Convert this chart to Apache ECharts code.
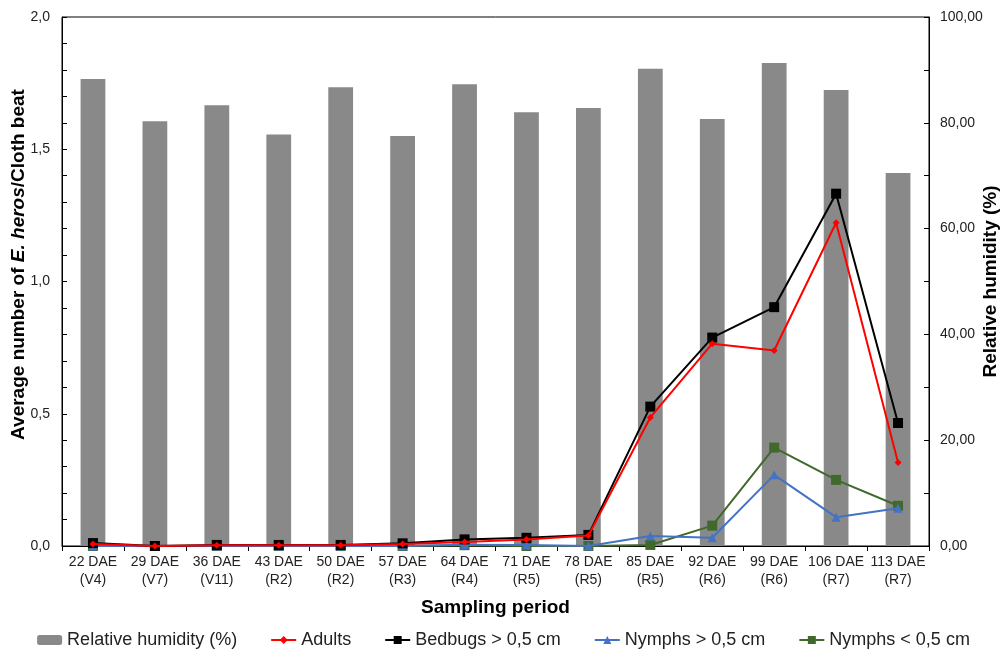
<!DOCTYPE html>
<html><head><meta charset="utf-8">
<script src="https://cdn.jsdelivr.net/npm/echarts@6/dist/echarts.min.js"></script>
<style>html,body{margin:0;padding:0;background:#fff}#c{width:1007px;height:655px}</style>
</head><body><div id="c"></div>
<script>
const categories = ['22 DAE\n(V4)','29 DAE\n(V7)','36 DAE\n(V11)','43 DAE\n(R2)','50 DAE\n(R2)','57 DAE\n(R3)','64 DAE\n(R4)','71 DAE\n(R5)','78 DAE\n(R5)','85 DAE\n(R5)','92 DAE\n(R6)','99 DAE\n(R6)','106 DAE\n(R7)','113 DAE\n(R7)'];
const humidity = [88.3, 80.3, 83.3, 77.8, 86.7, 77.5, 87.3, 82.0, 82.8, 90.2, 80.7, 91.3, 86.2, 70.5];
const adults   = [0.008, 0, 0.003, 0.003, 0.003, 0.008, 0.015, 0.025, 0.04, 0.486, 0.765, 0.739, 1.222, 0.316];
const bedbugs  = [0.011, 0, 0.004, 0.004, 0.004, 0.010, 0.025, 0.031, 0.042, 0.527, 0.788, 0.903, 1.332, 0.465];
const nymphsBig   = [0, 0, 0, 0, 0, 0, 0.005, 0.004, 0, 0.038, 0.031, 0.269, 0.109, 0.143];
const nymphsSmall = [0, 0, 0, 0, 0, 0, 0.003, 0, 0, 0.004, 0.077, 0.372, 0.250, 0.152];

const txt = '#222';
const font = 'Liberation Sans, Arial, sans-serif';
const chart = echarts.init(document.getElementById('c'));
chart.setOption({
  animation: false,
  textStyle: {fontFamily: font},
  grid: {left: 62, right: 78, top: 17, bottom: 109, outerBoundsMode: 'none', containLabel: false,
         show: true, borderColor: '#000', borderWidth: 1, backgroundColor: 'transparent'},
  legend: {
    bottom: 1, left: 'center', itemGap: 33, itemWidth: 25, itemHeight: 10,
    textStyle: {fontSize: 18, color: txt, fontFamily: font},
    data: ['Relative humidity (%)','Adults','Bedbugs > 0,5 cm','Nymphs > 0,5 cm','Nymphs < 0,5 cm']
  },
  xAxis: {
    type: 'category', data: categories,
    name: 'Sampling period', nameLocation: 'middle', nameGap: 52, nameMoveOverlap: false,
    nameTextStyle: {fontSize: 19, fontWeight: 'bold', color: '#000'},
    axisLine: {lineStyle: {color: '#000'}},
    axisTick: {show: true, length: 5, lineStyle: {color: '#000'}},
    axisLabel: {fontSize: 14, color: txt, lineHeight: 18, margin: 7, interval: 0}
  },
  yAxis: [{
    type: 'value', min: 0, max: 2, interval: 0.5,
    name: '{a|Average number of }{i|E. heros}{a|/Cloth beat}', nameLocation: 'middle', nameGap: 34, nameMoveOverlap: false,
    nameTextStyle: {padding: [0, 0, 0, 34], rich: {a: {fontSize: 19, fontWeight: 'bold', color: '#000', fontFamily: font}, i: {fontSize: 19, fontWeight: 'bold', fontStyle: 'italic', color: '#000', fontFamily: font}}},
    axisLine: {show: true, lineStyle: {color: '#000'}},
    axisTick: {show: true, inside: true, length: 5, lineStyle: {color: '#000'}},
    minorTick: {show: true, splitNumber: 5, length: 5, lineStyle: {color: '#000'}},
    splitLine: {show: false},
    axisLabel: {fontSize: 14, color: txt, margin: 12, formatter: v => v.toFixed(1).replace('.', ',')}
  }, {
    type: 'value', min: 0, max: 100, interval: 20, position: 'right',
    name: 'Relative humidity (%)', nameLocation: 'middle', nameGap: 52, nameRotate: 90, nameMoveOverlap: false,
    nameTextStyle: {fontSize: 19, fontWeight: 'bold', color: '#000'},
    axisLine: {show: true, lineStyle: {color: '#000'}},
    axisTick: {show: true, inside: true, length: 5, lineStyle: {color: '#000'}},
    minorTick: {show: true, splitNumber: 2, length: 5, lineStyle: {color: '#000'}},
    splitLine: {show: false},
    axisLabel: {fontSize: 14, color: txt, margin: 11, formatter: v => v.toFixed(2).replace('.', ',')}
  }],
  series: [
    {name: 'Relative humidity (%)', type: 'bar', yAxisIndex: 1, data: humidity, barWidth: '40%', itemStyle: {color: '#898989'}, z: 1},
    {name: 'Nymphs < 0,5 cm', type: 'line', data: nymphsSmall, symbol: 'rect', symbolSize: 10, itemStyle: {color: '#41692B'}, lineStyle: {width: 2, color: '#41692B'}, z: 3},
    {name: 'Nymphs > 0,5 cm', type: 'line', data: nymphsBig, symbol: 'triangle', symbolSize: 9, itemStyle: {color: '#4472C4'}, lineStyle: {width: 2, color: '#4472C4'}, z: 4},
    {name: 'Bedbugs > 0,5 cm', type: 'line', data: bedbugs, symbol: 'rect', symbolSize: 10, itemStyle: {color: '#000'}, lineStyle: {width: 2, color: '#000'}, z: 5},
    {name: 'Adults', type: 'line', data: adults, symbol: 'diamond', symbolSize: 7, itemStyle: {color: '#FF0000'}, lineStyle: {width: 2, color: '#FF0000'}, z: 6}
  ]
});
</script></body></html>
